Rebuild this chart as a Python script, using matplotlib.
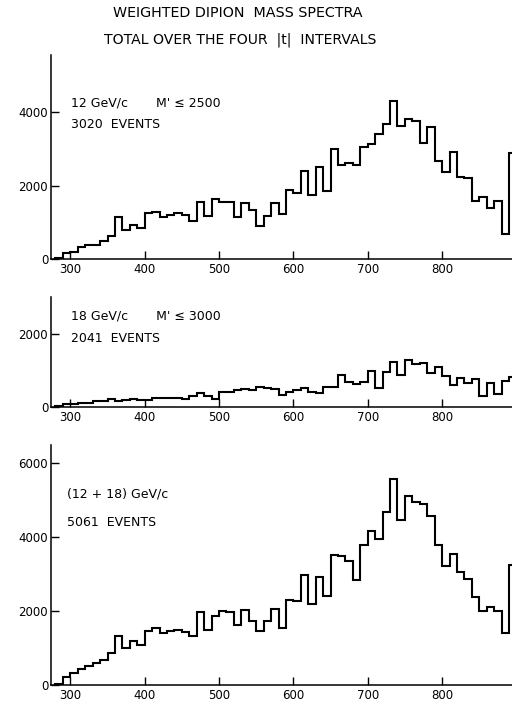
import numpy as np
import matplotlib
matplotlib.use('Agg')
import matplotlib.pyplot as plt

# dipion mass bins (MeV), 10 MeV wide, lower edges 280 ... 890
edges = np.arange(280, 910, 10)

# weighted entries per bin
w_12 = [40, 160, 210, 330, 400, 390, 500, 620, 1140, 800,
        920, 860, 1250, 1295, 1160, 1195, 1250, 1200, 1050, 1550,
        1185, 1650, 1550, 1560, 1140, 1520, 1340, 905, 1175, 1540,
        1220, 1890, 1790, 2400, 1750, 2510, 1855, 3000, 2560, 2615,
        2560, 3060, 3120, 3390, 3665, 4300, 3630, 3800, 3755, 3150,
        3590, 2670, 2360, 2920, 2245, 2200, 1585, 1685, 1385, 1585,
        700, 2900]
w_18 = [20, 75, 90, 100, 110, 160, 175, 210, 170, 190,
        230, 200, 200, 240, 240, 240, 240, 230, 290, 370,
        290, 210, 420, 410, 460, 480, 450, 540, 520, 490,
        340, 400, 460, 510, 420, 380, 534, 534, 880, 690,
        635, 690, 985, 515, 965, 1230, 875, 1295, 1186, 1190,
        935, 1085, 835, 610, 790, 655, 765, 295, 655, 360,
        715, 830]
w_all = [40, 226, 317, 425, 516, 588, 679, 860, 1330, 1014,
         1186, 1086, 1466, 1539, 1403, 1466, 1493, 1448, 1339, 1964,
         1493, 1882, 1991, 1964, 1629, 2018, 1738, 1475, 1720, 2063,
         1557, 2308, 2281, 2968, 2190, 2923, 2416, 3530, 3484, 3349,
         2833, 3801, 4163, 3964, 4679, 5584, 4480, 5131, 4950, 4905,
         4570, 3801, 3231, 3557, 3059, 2869, 2380, 1991, 2109, 1991,
         1421, 3258]

x_ticks = [300, 400, 500, 600, 700, 800]

panels = [
    # values, [left, bottom, width, height], ymax, yticks, line1, line2
    (w_12, [0.0996, 0.6317, 0.9004, 0.2902], 5550, [0, 2000, 4000],
     "12 GeV/c       M' \u2264 2500", "3020  EVENTS"),
    (w_18, [0.0996, 0.4219, 0.9004, 0.1562], 3000, [0, 2000],
     "18 GeV/c       M' \u2264 3000", "2041  EVENTS"),
    (w_all, [0.0996, 0.0270, 0.9004, 0.3409], 6500, [0, 2000, 4000, 6000],
     "(12 + 18) GeV/c", "5061  EVENTS"),
]

fig = plt.figure(figsize=(5.12, 7.04), dpi=100)

fig.text(0.464, 0.981, "WEIGHTED DIPION  MASS SPECTRA",
         ha='center', va='center', fontsize=10.3)
fig.text(0.470, 0.944, "TOTAL OVER THE FOUR  |t|  INTERVALS",
         ha='center', va='center', fontsize=10.1)

# text anchor (pixels from top) for the two label lines of each panel
label_y = [(103, 125), (316, 338), (494, 522)]
label_x = [71, 71, 67]

for (vals, rect, ymax, yt, l1, l2), (y1, y2), lx in zip(panels, label_y, label_x):
    ax = fig.add_axes(rect)
    ax.stairs(vals, edges, baseline=0, color='black', lw=1.5)
    ax.set_xlim(274, 894)
    ax.set_ylim(0, ymax)
    ax.set_xticks(x_ticks)
    ax.set_yticks(yt)
    ax.spines['top'].set_visible(False)
    ax.spines['right'].set_visible(False)
    for s in ('left', 'bottom'):
        ax.spines[s].set_linewidth(1.1)
    ax.tick_params(direction='in', length=6, width=1.0, labelsize=8.5, pad=3)
    ax.tick_params(axis='y', pad=2)
    fig.text(lx / 512, 1 - y1 / 704, l1, ha='left', va='center', fontsize=9)
    fig.text(lx / 512, 1 - y2 / 704, l2, ha='left', va='center', fontsize=9)

fig.savefig('out.png', dpi=100)
